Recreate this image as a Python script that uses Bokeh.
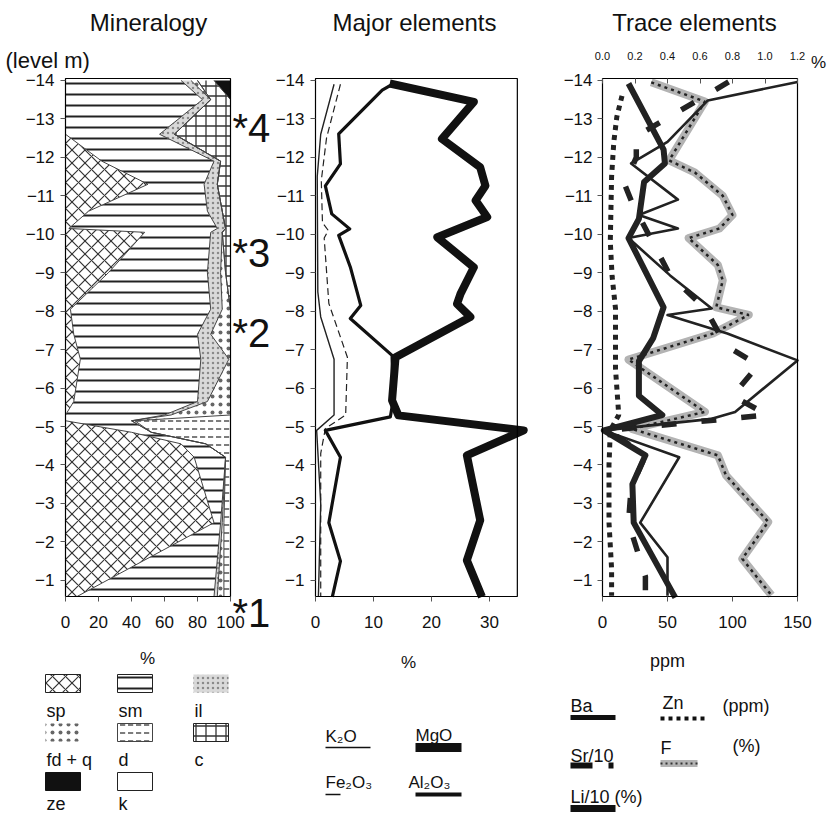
from bokeh.plotting import figure
from bokeh.models import Range1d, LinearAxis, FixedTicker, ColumnDataSource, NumeralTickFormatter
from bokeh.layouts import row
from bokeh.embed import file_html
from bokeh.resources import INLINE
from bokeh.core.properties import value
from bokeh.transform import stack

FONT = "Liberation Sans"

# ---------------- data ----------------
# Mineralogy: % of each phase at each level (m)
min_level = [-14.0, -13.5, -12.6, -11.9, -11.3, -10.6, -10.15, -10.05, -9.0, -8.05,
             -7.4, -6.75, -5.65, -5.3, -5.15, -4.85, -4.55, -4.2, -2.5, -0.58]
sp  = [0, 0, 0, 22, 50, 14, 2, 48, 26, 3, 5, 9, 5, 0, 0, 40, 70, 78, 90, 7]
sm  = [70, 83, 57, 68, 34, 72, 90, 40, 60, 85, 75, 73, 75, 60, 40, 12, 15, 19, 4, 83]
il  = [6, 5, 9, 4, 8, 9, 5, 7, 8, 7, 8, 17, 6, 4, 0, 0, 0, 0, 1, 2]
fdq = [4, 0, 0, 0, 0, 0, 0, 0, 3, 5, 12, 1, 14, 36, 2, 0, 0, 0, 1, 4]
dol = [0, 0, 0, 0, 0, 0, 0, 0, 0, 0, 0, 0, 0, 0, 58, 48, 15, 3, 4, 4]
cal = [10, 12, 34, 6, 8, 5, 3, 5, 3, 0, 0, 0, 0, 0, 0, 0, 0, 0, 0, 0]
ze  = [10, 0, 0, 0, 0, 0, 0, 0, 0, 0, 0, 0, 0, 0, 0, 0, 0, 0, 0, 0]
kao = [0, 0, 0, 0, 0, 0, 0, 0, 0, 0, 0, 0, 0, 0, 0, 0, 0, 0, 0, 0]
mineral_keys = ["sp", "sm", "il", "fdq", "d", "c", "ze", "k"]
mineral_labels = ["sp", "sm", "il", "fd + q", "d", "c", "ze", "k"]
mineral_ticks = [0, 20, 40, 60, 80, 100]

# sample markers (*1..*4), level of the digit baseline
marker_text = ["*4", "*3", "*2", "*1"]
marker_level = [-12.75, -9.5, -7.42, -0.14]

# Major elements (%)
mgo_level = [-13.92, -13.44, -12.48, -11.74, -11.26, -10.88, -10.45, -9.92, -9.14, -8.45,
             -8.19, -7.85, -6.8, -5.68, -5.29, -4.9, -4.25, -2.56, -1.52, -0.57]
mgo = [12.8, 27.3, 21.8, 28.4, 29.3, 27.6, 29.6, 21.0, 27.3, 25.0,
       24.4, 26.7, 13.8, 13.2, 14.3, 35.9, 26.1, 28.4, 26.1, 28.7]
al_level = [-13.92, -13.75, -12.61, -11.83, -11.26, -10.53, -10.14, -9.97, -9.15, -8.15,
            -7.81, -6.85, -5.68, -5.25, -4.9, -4.2, -2.5, -1.5, -0.57]
al2o3 = [13.5, 11.5, 4.0, 4.3, 1.7, 2.8, 5.9, 4.0, 6.0, 7.8,
         6.0, 13.2, 13.4, 12.9, 1.7, 4.3, 2.3, 4.3, 2.9]
k_level = [-13.9, -12.6, -11.5, -8.5, -7.85, -6.75, -5.3, -4.9, -3.0, -0.57]
k2o = [3.2, 0.9, 0.3, 0.4, 0.9, 3.2, 3.2, 0.2, 0.9, 0.5]
fe_level = [-13.9, -12.5, -11.4, -10.3, -10.1, -9.9, -8.2, -6.8, -5.3, -4.95, -4.3, -0.57]
fe2o3 = [4.3, 1.9, 1.0, 1.2, 2.2, 1.5, 2.3, 5.5, 5.2, 1.7, 0.9, 0.9]
major_ticks = [0, 10, 20, 30]

# Trace elements (ppm; F in %)
ba_level = [-13.96, -13.48, -12.4, -11.84, -10.9, -10.5, -10.15, -9.9, -8.93, -8.07,
            -7.9, -7.42, -6.72, -5.38, -5.2, -4.9, -4.2, -2.5, -1.6, -0.6]
ba = [150, 81, 50, 22, 58, 28, 58, 20, 52, 84, 50, 96, 150, 102, 84, 1, 59, 29, 50, 50]
li_level = [-13.92, -12.2, -11.84, -11.36, -10.4, -9.9, -8.1, -7.3, -6.7, -5.8,
            -5.3, -4.9, -4.25, -3.5, -2.5, -0.55]
li10 = [20, 47, 48, 32, 28, 20, 47, 39, 28, 28, 46, 1, 33, 23, 24, 56]
sr_level = [-13.96, -13.1, -12.55, -12.0, -11.3, -10.8, -8.93, -8.07, -7.1, -6.6,
            -5.8, -5.3, -4.9, -4.25, -3.4, -2.5, -1.1, -0.6]
sr10 = [97, 54, 26, 26, 17, 23, 52, 79, 95, 120, 100, 127, 4, 33, 22, 20, 33, 33]
zn_level = [-13.6, -13.05, -12.4, -11.5, -9.8, -8.9, -8.07, -6.5, -5.3, -4.9, -4.0, -2.5, -1.3, -0.6]
zn = [15, 11, 8.7, 7, 6, 7.4, 10, 10, 12.5, 6, 5, 5, 7, 7]
f_level = [-13.95, -13.45, -11.92, -11.6, -11.0, -10.5, -10.15, -9.9, -9.2, -8.8, -8.1,
           -7.9, -7.42, -6.74, -5.38, -4.94, -4.25, -3.73, -2.52, -1.56, -0.61]
f_pct = [0.30, 0.63, 0.41, 0.57, 0.74, 0.80, 0.72, 0.53, 0.71, 0.74, 0.70,
         0.90, 0.68, 0.16, 0.63, 0.18, 0.71, 0.76, 1.02, 0.86, 1.04]
trace_ticks = [0, 50, 100, 150]
pct_ticks = [0.0, 0.2, 0.4, 0.6, 0.8, 1.0, 1.2]
pct_max = 1.2
level_ticks = [-14, -13, -12, -11, -10, -9, -8, -7, -6, -5, -4, -3, -2, -1]

# ---------------- layout (page pixels) ----------------
PAGE_H = 816
Y_TOP, Y_BOT = -14.05, -0.58          # levels at the top / bottom edge of each box
BOX_TOP_PX = 78
PX_PER_M = 518 / (Y_BOT - Y_TOP)


def level_at(px):
    return Y_TOP + (px - BOX_TOP_PX) / PX_PER_M


# mineral styles
m_fill = ["white", "white", "#d9d9d9", "white", "white", "white", "#111111", "white"]
m_hatch = ["x", "-", ".", ".", '"', "+", None, None]
m_hcol = ["#333333", "#222222", "#8a8a8a", "#666666", "#444444", "#333333", "#111111", "#111111"]
m_hscale = [13, 11, 5, 8, 8, 10, 10, 10]
m_hweight = [1.2, 2.0, 1.2, 1.0, 1.4, 1.3, 1, 1]


def panel(fig_left, width, box_left, px_per_unit, xticks):
    """One column of the page: header, box with axes, legend. The frame is the whole figure."""
    xr = Range1d((fig_left - box_left) / px_per_unit, (fig_left + width - box_left) / px_per_unit)
    p = figure(width=width, height=PAGE_H, x_range=xr, y_range=Range1d(level_at(PAGE_H), level_at(0)),
               output_backend="svg", toolbar_location=None, min_border=0)
    p.extra_x_ranges = {"px": Range1d(fig_left, fig_left + width)}
    p.extra_y_ranges = {"px": Range1d(PAGE_H, 0)}
    p.grid.visible = False
    p.outline_line_color = None
    p.background_fill_color = "white"
    p.border_fill_color = "white"
    p.yaxis.ticker = FixedTicker(ticks=level_ticks)
    p.yaxis.fixed_location = 0
    p.xaxis.ticker = FixedTicker(ticks=xticks)
    p.xaxis.fixed_location = Y_BOT
    p.axis.major_label_text_font = FONT
    p.axis.major_label_text_font_size = "17px"
    p.axis.major_label_text_color = "#111111"
    p.axis.minor_tick_line_color = None
    p.axis.major_tick_out = 5
    p.axis.major_tick_in = 0
    p.axis.major_tick_line_color = "#555555"
    p.axis.axis_line_color = None
    p.yaxis.major_label_standoff = 6
    p.xaxis.major_label_standoff = 14
    return p


def box(p, right):
    p.quad(left=[0], right=[right], top=[Y_TOP], bottom=[Y_BOT], fill_color=None,
           line_color="black", line_width=1.2)


def put_text(p, xs, ys, texts, size, align="left", base="middle"):
    p.text(x=xs, y=ys, text=texts, x_range_name="px", y_range_name="px",
           text_font=value(FONT), text_font_size=size,
           text_baseline=base, text_align=align, text_color="#111111")


def seg(p, x0, x1, y, width, color="#111111", dash="solid"):
    p.segment(x0=x0, y0=[y] * len(x0), x1=x1, y1=[y] * len(x0), x_range_name="px", y_range_name="px",
              line_color=color, line_width=width, line_dash=dash)


# ---------------- Mineralogy ----------------
p1 = panel(0, 273, 65, 1.65, mineral_ticks)
src = ColumnDataSource(dict(level=min_level, sp=sp, sm=sm, il=il, fdq=fdq, d=dol, c=cal, ze=ze, k=kao))
p1.harea_stack(mineral_keys, y="level", source=src, fill_color=m_fill, hatch_pattern=m_hatch,
               hatch_color=m_hcol, hatch_scale=m_hscale, hatch_weight=m_hweight)
for i in range(1, len(mineral_keys)):
    p1.line(x=stack(*mineral_keys[:i]), y="level", source=src, line_color="#444444", line_width=1)
box(p1, 100)
p1.text(x=[101.2] * len(marker_text), y=marker_level, text=marker_text, text_font=value(FONT),
        text_font_size="40px", text_baseline="alphabetic", text_align="left", text_color="#111111")
put_text(p1, [148], [22], ["Mineralogy"], "24px", align="center")
put_text(p1, [5], [60], ["(level m)"], "22px")
put_text(p1, [147], [658], ["%"], "17px", align="center")

sw_left = [45, 117, 193, 45, 117, 193, 45, 117]
sw_top = [674, 674, 674, 723, 723, 723, 772, 772]
sw_line = ["#222222", "#222222", None, None, "#444444", "#222222", "#111111", "#222222"]
for i in range(len(mineral_keys)):
    p1.quad(left=sw_left[i], right=sw_left[i] + 35, top=sw_top[i], bottom=sw_top[i] + 18,
            x_range_name="px", y_range_name="px",
            fill_color=m_fill[i], hatch_pattern=m_hatch[i], hatch_color=m_hcol[i],
            hatch_scale=m_hscale[i], hatch_weight=m_hweight[i], line_color=sw_line[i], line_width=1)
put_text(p1, [l + 1 for l in sw_left], [710, 710, 710, 759, 759, 759, 803, 803], mineral_labels, "18px")

# ---------------- Major elements ----------------
p2 = panel(273, 272, 315, 5.8, major_ticks)
p2.line(fe2o3, fe_level, line_color="#222222", line_width=1.2, line_dash="7 4")
p2.line(k2o, k_level, line_color="#222222", line_width=1.4)
p2.line(al2o3, al_level, line_color="#111111", line_width=3.2, line_join="round")
p2.line(mgo, mgo_level, line_color="#111111", line_width=8, line_join="round")
box(p2, 34.8)
put_text(p2, [414], [22], ["Major elements"], "24px", align="center")
put_text(p2, [408], [662], ["%"], "17px", align="center")
put_text(p2, [325, 415, 325, 408], [736, 735, 782, 782], ["K₂O", "MgO", "Fe₂O₃", "Al₂O₃"], "17px")
seg(p2, [325], [370], 747, 1.6)
seg(p2, [415], [461], 747, 9)
seg(p2, [325], [340], 794, 1.4)
seg(p2, [415], [461], 794, 4)

# ---------------- Trace elements ----------------
p3 = panel(545, 282, 602, 1.3, trace_ticks)
ppm_per_pct = 150 / pct_max
p3.extra_x_ranges["pct"] = Range1d(p3.x_range.start / ppm_per_pct, p3.x_range.end / ppm_per_pct)
top_ax = LinearAxis(x_range_name="pct", ticker=FixedTicker(ticks=pct_ticks),
                    formatter=NumeralTickFormatter(format="0.0"), fixed_location=Y_TOP)
top_ax.major_label_text_font = FONT
top_ax.major_label_text_font_size = "11px"
top_ax.major_label_text_color = "#111111"
top_ax.minor_tick_line_color = None
top_ax.major_tick_in = 4
top_ax.major_tick_out = 0
top_ax.major_tick_line_color = "#555555"
top_ax.axis_line_color = None
top_ax.major_label_standoff = 10
p3.add_layout(top_ax, "above")
p3.xaxis[0].major_tick_in = 5
p3.xaxis[0].major_tick_out = 0
p3.xaxis[0].major_label_standoff = 19
p3.yaxis.major_label_standoff = 5

p3.line(f_pct, f_level, x_range_name="pct", line_color="#b3b3b3", line_width=8, line_join="round")
p3.line(f_pct, f_level, x_range_name="pct", line_color="#222222", line_width=2.5, line_dash="3 4")
p3.line(zn, zn_level, line_color="#222222", line_width=5, line_dash="5 5")
p3.line(sr10, sr_level, line_color="#222222", line_width=5.5, line_dash="15 25")
p3.line(li10, li_level, line_color="#222222", line_width=6, line_join="round")
p3.line(ba, ba_level, line_color="#222222", line_width=2.6, line_join="round")
box(p3, 150)
put_text(p3, [694], [22], ["Trace elements"], "24px", align="center")
put_text(p3, [818], [62], ["%"], "17px", align="center")
put_text(p3, [667], [660], ["ppm"], "18px", align="center")
put_text(p3, [570, 662, 722, 570, 660, 732, 570], [705, 702, 705, 755, 747, 745, 796],
         ["Ba", "Zn", "(ppm)", "Sr/10", "F", "(%)", "Li/10  (%)"], "18px")
seg(p3, [570], [615], 717, 5)
seg(p3, [660], [706], 718, 4, dash="4 4")
seg(p3, [570, 608], [592, 613], 765, 6)
seg(p3, [660], [697], 763, 7, color="#b3b3b3")
seg(p3, [660], [697], 763, 2, color="#333333", dash="2 3")
seg(p3, [570], [615], 808, 7)

layout = row(p1, p2, p3)
open("out.html", "w").write(file_html(layout, INLINE))
